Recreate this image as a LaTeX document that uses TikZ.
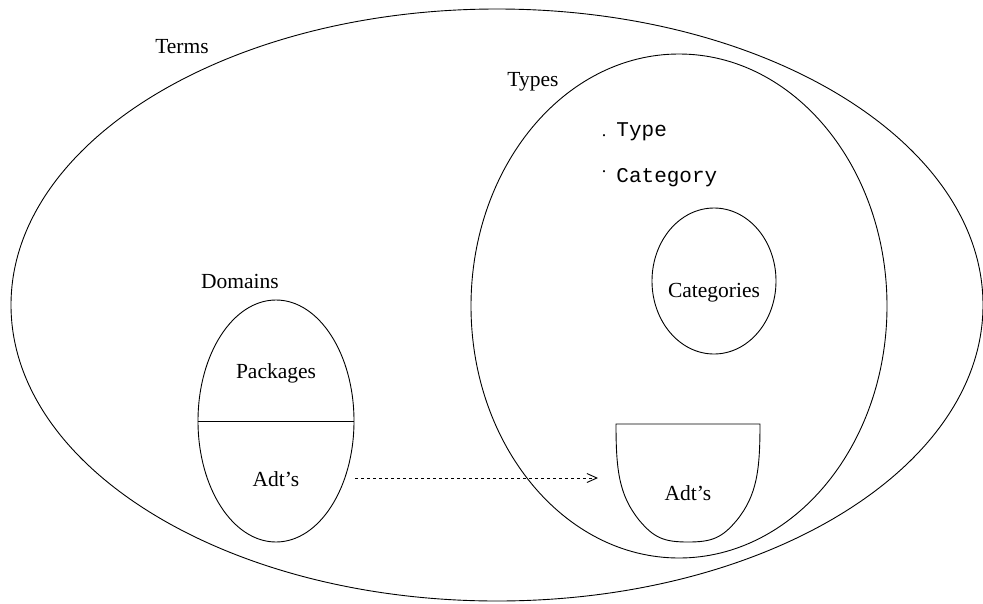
\documentclass[tikz,border=0pt]{standalone}
\usepackage{fontspec}
\setmainfont{Liberation Serif}
\setmonofont{Liberation Mono}
\usetikzlibrary{shapes.geometric,arrows.meta}
\begin{document}
\begin{tikzpicture}[x=1pt,y=-1pt,
  set/.style={draw,ellipse,inner sep=0pt,line width=0.9pt},
  lbl/.style={inner sep=0pt,font=\fontsize{21.5}{23}\selectfont},
  code/.style={inner sep=0pt,anchor=base west,font=\fontsize{21}{22}\ttfamily},
  line width=0.9pt]
\useasboundingbox (0,0) rectangle (983,603);
% ellipses
\node[set,minimum width=972pt,minimum height=592pt] (terms) at (497,305) {};
\node[set,minimum width=416pt,minimum height=504pt] (types) at (679,306) {};
\node[set,minimum width=124pt,minimum height=146pt] (cats) at (714,281) {};
\node[set,minimum width=156pt,minimum height=242pt] (doms) at (276,421) {};
\draw (doms.west) -- (doms.east);
% bowl
\draw (616,424) -- (760,424)
  .. controls (760,470) and (757,495) .. (737,520)
  .. controls (722,538) and (712,542) .. (688,542)
  .. controls (664,542) and (654,538) .. (639,520)
  .. controls (619,495) and (616,470) .. (616,424) -- cycle;
% labels
\node[lbl] (tTerms) at (182,47) {Terms};
\node[lbl] (tTypes) at (533,82) {Types};
\node[lbl] (tDom) at (240,281) {Domains};
\node[lbl] (tPack) at (276,373) {Packages};
\node[lbl] (tAdtL) at (276,479) {Adt's};
\node[lbl] (tCats) at (714,293) {Categories};
\node[lbl] (tAdtR) at (688,493) {Adt's};
\node[code] (tType) at (616,136) {Type};
\node[code] (tCat) at (616,182) {Category};
\node[inner sep=0pt,anchor=base,font=\fontsize{18}{20}\selectfont] (d1) at (604,136) {.};
\node[inner sep=0pt,anchor=base,font=\fontsize{18}{20}\selectfont] (d2) at (604,172) {.};
% arrow
\coordinate (a1) at (355,478);
\coordinate (a2) at (598,478);
\draw[dash pattern=on 3pt off 3pt,-{Straight Barb[length=10pt,width=9pt]}] (a1) -- (a2);
\end{tikzpicture}
\end{document}
